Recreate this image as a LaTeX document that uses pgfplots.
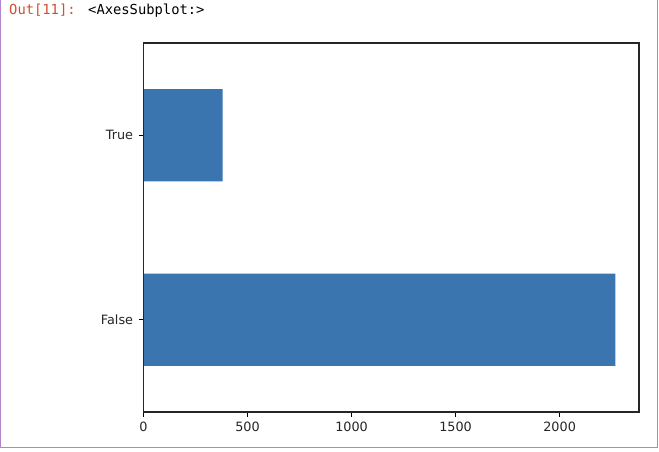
\documentclass[border=0pt]{standalone}
\usepackage{pgfplots}
\pgfplotsset{compat=1.18}
\usepackage{fontspec}
\setmainfont{DejaVu Sans}
\newfontfamily\monofont{DejaVu Sans Mono}
\definecolor{barblue}{RGB}{58,117,175}
\definecolor{outred}{RGB}{210,80,45}
\definecolor{cellborder}{RGB}{175,135,200}
\begin{document}
\begin{tikzpicture}[x=1pt,y=1pt]
\path[use as bounding box,fill=white] (0,0) rectangle (659,451);
\draw[cellborder,line width=1.2pt] (0.8,451) -- (0.8,3.5) -- (657.6,3.5) -- (657.6,451);
\node[anchor=base west,inner sep=0pt,font=\monofont\fontsize{13.8}{16}\selectfont,text=outred] at (9,436) {Out[11]:};
\node[anchor=base west,inner sep=0pt,font=\monofont\fontsize{13.8}{16}\selectfont] at (88,436) {<AxesSubplot:>};
\begin{axis}[
  at={(143.5pt,39pt)}, anchor=south west,
  scale only axis, width=495.5pt, height=369pt,
  xbar, bar width=92.25pt,
  xmin=0, xmax=2381.4, ymin=-0.5, ymax=1.5,
  xtick={0,500,1000,1500,2000},
  ytick={0,1}, yticklabels={False,True},
  xtick pos=bottom, ytick pos=left,
  tick align=outside, major tick length=4.9pt,
  tick style={line width=1.1pt,black},
  axis line style={line width=1.1pt,black!85},
  every tick label/.append style={font=\fontsize{12.8}{14}\selectfont,text=black!85},
  /pgf/number format/assume math mode=true,
  /pgf/number format/1000 sep={},
  xticklabel style={yshift=-2pt},
  yticklabel style={xshift=-2pt},
  axis on top,
]
\addplot[fill=barblue,draw=none] coordinates {(2268,0) (380,1)};
\end{axis}
\end{tikzpicture}
\end{document}
